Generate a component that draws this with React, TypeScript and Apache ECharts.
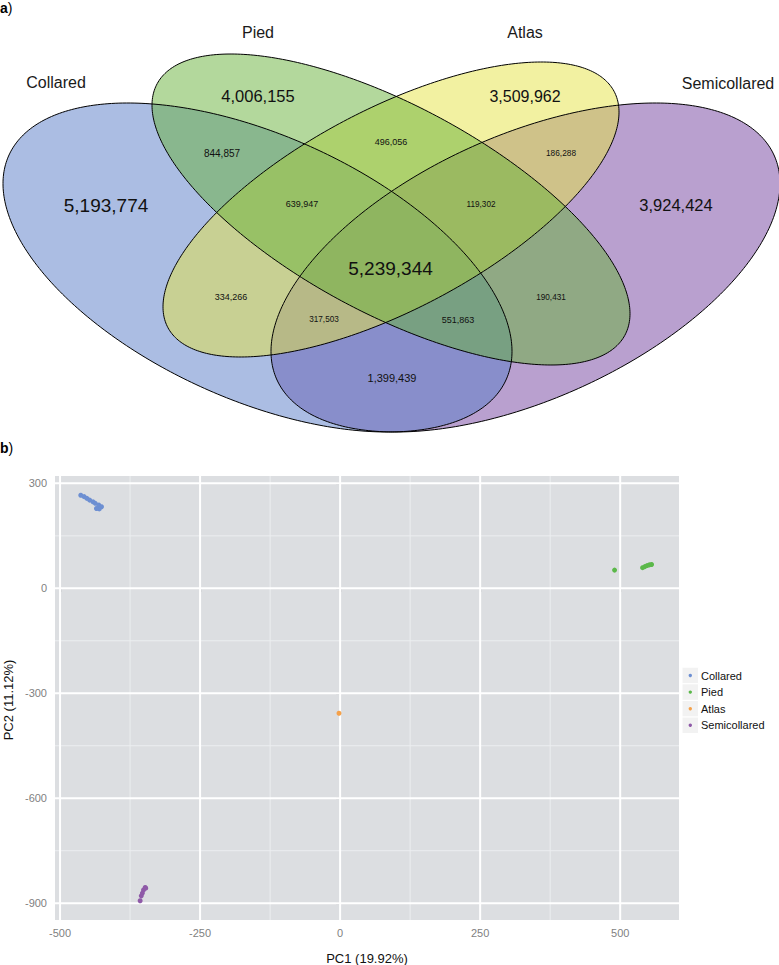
import React, { useEffect, useRef } from "react";
import * as echarts from "echarts";

// ---------- data ----------
const groups = ["Collared", "Pied", "Atlas", "Semicollared"];
const groupColors = ["#6d8fd2", "#5bb84a", "#f5a14a", "#8f5aa8"];

// Venn region counts (C=Collared, P=Pied, A=Atlas, S=Semicollared)
const vennRegions = ["C", "P", "A", "S", "CP", "PA", "AS", "CPA", "PAS", "CPAS", "CA", "CAS", "CPS", "PS", "CS"];
const vennCounts = [5193774, 4006155, 3509962, 3924424, 844857, 496056, 186288, 639947, 119302, 5239344, 334266, 317503, 551863, 190431, 1399439];

// PCA scores
const collaredPC1 = [-463, -457, -452, -447, -441, -437, -431, -426, -430, -435];
const collaredPC2 = [266, 262, 257, 252, 247, 243, 238, 233, 227, 228];
const piedPC1 = [490, 540, 544, 548, 552, 556];
const piedPC2 = [52, 59, 62, 65, 67, 68];
const atlasPC1 = [-2];
const atlasPC2 = [-357];
const semicollaredPC1 = [-357, -355, -353, -351, -348, -347];
const semicollaredPC2 = [-893, -879, -871, -862, -855, -857];

const xTicks = [-500, -250, 0, 250, 500];
const yTicks = [-900, -600, -300, 0, 300];
const xMinor = [-375, -125, 125, 375];
const yMinor = [-750, -450, -150, 150];

const xTitle = "PC1 (19.92%)";
const yTitle = "PC2 (11.12%)";

// ---------- layout ----------
const FONT = '"Liberation Sans", Arial, Helvetica, sans-serif';

const ellipseGeom = [
  { cx: 257.5, cy: 267.5, ex: 254.5, ey: 164.5, rho: 0.51 },
  { cx: 391, cy: 209.5, ex: 239, ey: 155.5, rho: 0.67 },
  { cx: 391, cy: 209.5, ex: 228, ey: 147.5, rho: -0.66 },
  { cx: 525.5, cy: 267.5, ex: 254.5, ey: 164.5, rho: -0.51 },
];
const vennFill = ["#577bc7", "#67b139", "#e5e343", "#73419f"];
// drawing order of the translucent fills: Semicollared, Collared, Atlas, Pied
const fillOrder = [3, 0, 2, 1];
const catLabelPos = [
  [56, 82],
  [258, 32],
  [525, 32],
  [728, 83],
];
const regionLabelLayout: Record<string, [number, number, number]> = {
  C: [106, 205, 19],
  P: [258, 96, 16.5],
  A: [525, 96, 16],
  S: [676, 205, 16.5],
  CP: [222, 153, 10],
  PA: [391, 142, 9],
  AS: [561, 153, 8.3],
  CPA: [302, 204, 9],
  PAS: [481, 204, 8.2],
  CPAS: [390.5, 268, 19],
  CA: [231, 297, 9],
  CAS: [324, 319, 8.2],
  CPS: [458, 320, 9],
  PS: [551, 297, 8.2],
  CS: [392, 378, 11],
};

function ellipsePoints(cx: number, cy: number, ex: number, ey: number, rho: number, n = 360) {
  const s = Math.sqrt(1 - rho * rho);
  const pts: number[][] = [];
  for (let i = 0; i < n; i++) {
    const t = (2 * Math.PI * i) / n;
    pts.push([cx + ex * Math.cos(t), cy + ey * (rho * Math.cos(t) + s * Math.sin(t))]);
  }
  return pts;
}

const zip = (a: number[], b: number[]) => a.map((v, i) => [v, b[i]]);

function buildOption() {
  const graphic: any[] = [];
  // Venn fills
  fillOrder.forEach((i, k) => {
    const g = ellipseGeom[i];
    graphic.push({
      type: "polygon",
      silent: true,
      shape: { points: ellipsePoints(g.cx, g.cy, g.ex, g.ey, g.rho) },
      style: { fill: vennFill[i], opacity: 0.5, stroke: null },
      z: 10 + k,
    });
  });
  // Venn outlines
  ellipseGeom.forEach((g, i) => {
    graphic.push({
      type: "polygon",
      silent: true,
      shape: { points: ellipsePoints(g.cx, g.cy, g.ex, g.ey, g.rho) },
      style: { fill: "transparent", stroke: "#000", lineWidth: 1 },
      z: 20 + i,
    });
  });
  // category names
  groups.forEach((name, i) => {
    graphic.push({
      type: "text",
      x: catLabelPos[i][0],
      y: catLabelPos[i][1],
      z: 30,
      style: { text: name, fontSize: 16, fontFamily: FONT, fill: "#1a1a1a", align: "center", verticalAlign: "middle" },
    });
  });
  // region counts
  vennRegions.forEach((key, i) => {
    const [x, y, fs] = regionLabelLayout[key];
    graphic.push({
      type: "text",
      x,
      y,
      z: 30,
      style: {
        text: vennCounts[i].toLocaleString("en-US"),
        fontSize: fs,
        fontFamily: FONT,
        fill: "#111",
        align: "center",
        verticalAlign: "middle",
      },
    });
  });
  // panel tags
  [["a", 8], ["b", 448]].forEach(([t, y]) => {
    graphic.push({
      type: "text",
      x: 0,
      y: y as number,
      z: 30,
      style: {
        text: `{b|${t}}{n|)}`,
        rich: {
          b: { fontWeight: "bold", fontSize: 14, fontFamily: FONT, fill: "#000" },
          n: { fontSize: 14, fontFamily: FONT, fill: "#000" },
        },
        verticalAlign: "middle",
        align: "left",
      },
    });
  });
  // axis titles
  graphic.push({
    type: "text",
    x: 367,
    y: 958,
    z: 30,
    style: { text: xTitle, fontSize: 13, fontFamily: FONT, fill: "#111", align: "center", verticalAlign: "middle" },
  });
  graphic.push({
    type: "text",
    x: 8,
    y: 700,
    rotation: Math.PI / 2,
    z: 30,
    style: { text: yTitle, fontSize: 13, fontFamily: FONT, fill: "#111", align: "center", verticalAlign: "middle" },
  });
  // legend
  groups.forEach((name, i) => {
    const cy = 675.5 + i * 16.6;
    graphic.push({
      type: "rect",
      shape: { x: 682, y: cy - 8.3, width: 16.6, height: 16.6 },
      style: { fill: "#f2f2f2", stroke: "#ffffff", lineWidth: 1 },
      z: 30,
    });
    graphic.push({
      type: "circle",
      shape: { cx: 690.3, cy, r: 1.7 },
      style: { fill: groupColors[i] },
      z: 31,
    });
    graphic.push({
      type: "text",
      x: 701,
      y: cy,
      z: 31,
      style: { text: name, fontSize: 11, fontFamily: FONT, fill: "#111", align: "left", verticalAlign: "middle" },
    });
  });

  const gridLineData = [
    ...xMinor.map((v) => [v, 0, 0]),
    ...yMinor.map((v) => [v, 1, 0]),
    ...xTicks.map((v) => [v, 0, 1]),
    ...yTicks.map((v) => [v, 1, 1]),
  ];

  const tickStyle = { show: true, length: 4, lineStyle: { color: "#7f7f7f", width: 1.2 } };
  const labelStyle = { color: "#7f7f7f", fontSize: 11, fontFamily: FONT };

  return {
    animation: false,
    backgroundColor: "#ffffff",
    grid: { left: 55, top: 476, width: 624, height: 444, show: true, backgroundColor: "#dcdee1", borderWidth: 0 },
    xAxis: {
      type: "value",
      min: -509,
      max: 605,
      axisLine: { show: false },
      splitLine: { show: false },
      axisTick: { ...tickStyle, customValues: xTicks },
      axisLabel: { ...labelStyle, customValues: xTicks, margin: 7 },
    },
    yAxis: {
      type: "value",
      min: -948,
      max: 321,
      axisLine: { show: false },
      splitLine: { show: false },
      axisTick: { ...tickStyle, customValues: yTicks },
      axisLabel: { ...labelStyle, customValues: yTicks, margin: 8 },
    },
    series: [
      {
        type: "custom",
        silent: true,
        z: 1,
        data: gridLineData,
        renderItem: (params: any, api: any) => {
          const v = api.value(0);
          const isY = api.value(1) === 1;
          const major = api.value(2) === 1;
          const cs = params.coordSys;
          const p = api.coord(isY ? [0, v] : [v, 0]);
          const shape = isY
            ? { x1: cs.x, y1: p[1], x2: cs.x + cs.width, y2: p[1] }
            : { x1: p[0], y1: cs.y, x2: p[0], y2: cs.y + cs.height };
          return {
            type: "line",
            shape,
            style: { stroke: major ? "#ffffff" : "#eceef0", lineWidth: major ? 2 : 1 },
          };
        },
      },
      ...[
        [collaredPC1, collaredPC2],
        [piedPC1, piedPC2],
        [atlasPC1, atlasPC2],
        [semicollaredPC1, semicollaredPC2],
      ].map(([a, b], i) => ({
        type: "scatter",
        name: groups[i],
        z: 3,
        data: zip(a, b),
        symbolSize: 5,
        itemStyle: { color: groupColors[i], opacity: 1 },
      })),
    ],
    graphic,
  };
}

export default function App() {
  const ref = useRef<HTMLDivElement>(null);
  useEffect(() => {
    if (!ref.current) return;
    const chart = echarts.init(ref.current, null, { renderer: "svg" });
    chart.setOption(buildOption() as any);
    return () => chart.dispose();
  }, []);
  return <div ref={ref} style={{ position: "absolute", left: 0, top: 0, width: 779, height: 965 }} />;
}
